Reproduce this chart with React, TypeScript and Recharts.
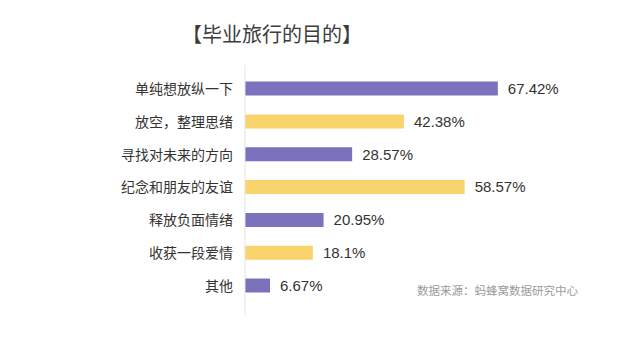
import { BarChart, Bar, XAxis, YAxis, Cell, LabelList } from "recharts";

const categories = [
  "单纯想放纵一下",
  "放空，整理思绪",
  "寻找对未来的方向",
  "纪念和朋友的友谊",
  "释放负面情绪",
  "收获一段爱情",
  "其他",
];
const percents = [67.42, 42.38, 28.57, 58.57, 20.95, 18.1, 6.67];
const valueLabels = ["67.42%", "42.38%", "28.57%", "58.57%", "20.95%", "18.1%", "6.67%"];

const data = categories.map((name, i) => ({
  name,
  value: percents[i],
  label: valueLabels[i],
}));

const PURPLE = "#7b72bd";
const YELLOW = "#f9d46c";
const FONT = '"Noto Sans CJK SC", "Noto Sans", sans-serif';

export default function App() {
  return (
    <div style={{ position: "relative", width: 640, height: 339, background: "#fff" }}>
      <style>{"body{margin:0}"}</style>
      <div
        style={{
          position: "absolute",
          left: 182,
          top: 20,
          fontFamily: FONT,
          fontSize: 20,
          fontWeight: 400,
          color: "#3c3c3c",
          lineHeight: "28px",
          whiteSpace: "nowrap",
        }}
      >
        【毕业旅行的目的】
      </div>
      <BarChart
        width={640}
        height={339}
        data={data}
        layout="vertical"
        margin={{ top: 65, right: 20, bottom: 24, left: 0 }}
      >
        <XAxis type="number" domain={[0, 100]} hide />
        <YAxis
          type="category"
          dataKey="name"
          width={245}
          tickSize={0}
          tickMargin={12}
          axisLine={{ stroke: "#e4e4e4" }}
          tickLine={false}
          padding={{ top: 7.6, bottom: 12.6 }}
          tick={{ fill: "#333", fontSize: 14, fontFamily: FONT }}
        />
        <Bar dataKey="value" barSize={14} isAnimationActive={false}>
          {data.map((d, i) => (
            <Cell key={d.name} fill={i % 2 === 0 ? PURPLE : YELLOW} />
          ))}
          <LabelList
            dataKey="label"
            position="right"
            offset={10}
            fill="#333"
            fontSize={15}
            fontFamily='"Liberation Sans", Arial, sans-serif'
          />
        </Bar>
      </BarChart>
      <div
        style={{
          position: "absolute",
          left: 417,
          top: 282,
          fontFamily: FONT,
          fontSize: 11.5,
          color: "#9a9a9a",
          lineHeight: "16px",
          whiteSpace: "nowrap",
        }}
      >
        数据来源：蚂蜂窝数据研究中心
      </div>
    </div>
  );
}
